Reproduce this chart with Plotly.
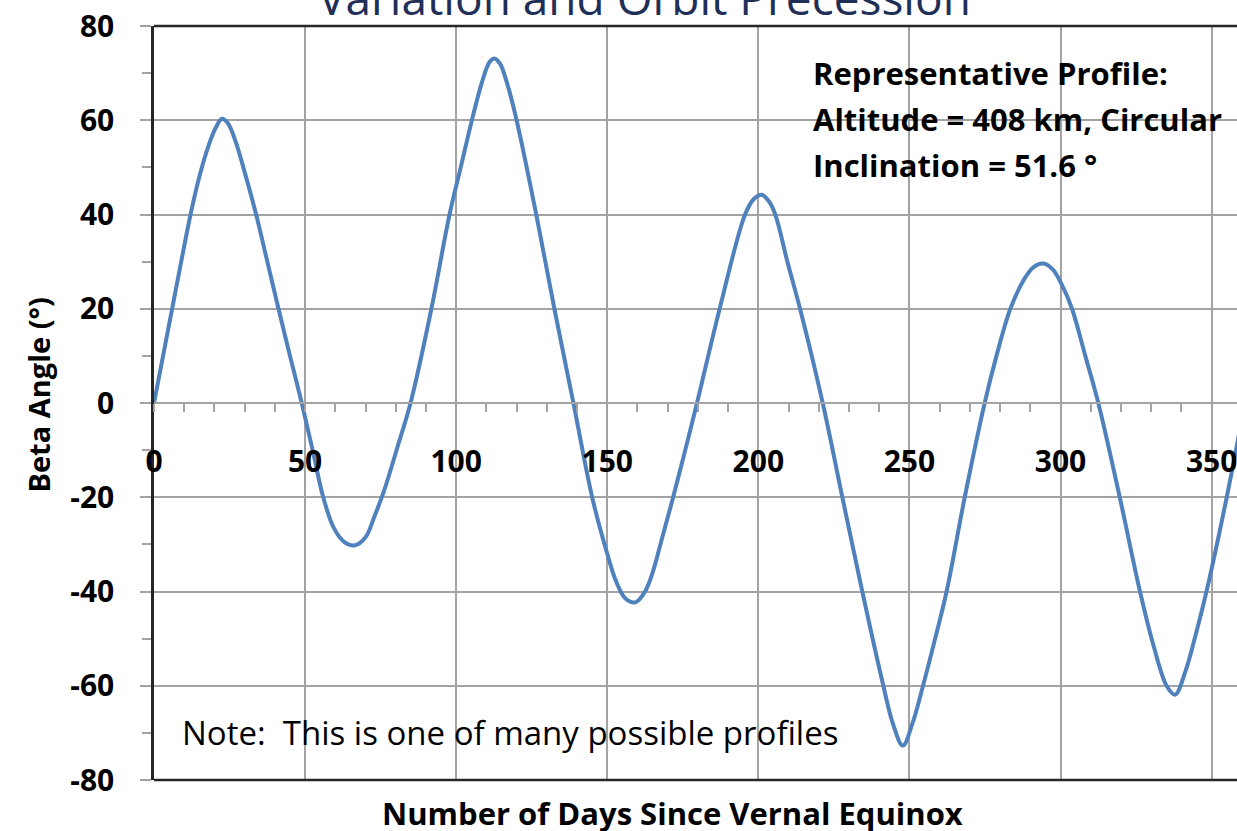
import plotly.graph_objects as go

# beta angle profile (days since vernal equinox, degrees)
days = [0, 3, 6, 9, 12.1, 15, 18, 20.5, 22.5, 24.5, 27, 30, 33.8, 37.5, 41.2, 45, 48.9,
        52.5, 56, 59.5, 63, 66.5, 70, 73, 76.2, 80.5, 84.9, 91.8, 97.8, 101.5, 105.2,
        108.5, 111, 112.6, 114.5, 117, 120, 126.5, 132.5, 138.8, 145, 150, 153, 156,
        159.3, 162.5, 165, 168, 171.8, 175.8, 179.7, 187.2, 195.6, 198.5, 201.1, 203.5,
        205.6, 209.6, 213.8, 221.3, 227.8, 234.4, 241, 244.5, 247.8, 251, 254.5, 258.5,
        262.3, 268.3, 274.9, 278.8, 283.4, 288, 291, 294.3, 297.5, 300.5, 303.8, 308.2,
        312.5, 319.6, 326.3, 331, 335.1, 337.9, 341.3, 344.8, 348.3, 355, 361]
beta = [0, 10, 20, 30, 40, 48, 54.5, 58.5, 60.3, 59.3, 55.5, 49, 40, 30, 20, 10, 0,
        -10, -20, -26.5, -29.5, -30.2, -28.5, -24, -18.5, -9.5, 0, 20, 40, 50, 60,
        68, 72.3, 73.1, 72, 67.5, 60, 40, 20, 0, -20, -32, -38, -41.5,
        -42.3, -40, -36, -29, -20, -10, 0, 20, 40, 43.3, 44.2, 42.8,
        40, 30, 20, 0, -20, -40, -59, -68, -72.7, -68, -60, -50,
        -40, -20, 0, 10, 20, 26.3, 28.8, 29.6, 28.3, 25, 20, 10,
        0, -20, -40, -52, -60, -61.9, -57, -49, -40, -20, 0]

x_ticks = [0, 50, 100, 150, 200, 250, 300, 350]
y_ticks = [-80, -60, -40, -20, 0, 20, 40, 60, 80]
y_labels = ["-80", "-60", "-40", "-20", "0", "20", "40", "60", "80"]

title_text = "Variation and Orbit Precession"
profile_lines = ["Representative Profile:", "Altitude = 408 km, Circular", "Inclination = 51.6 °"]
note_text = "Note:  This is one of many possible profiles"

FONT = "Open Sans"
grid = "#a3a3a3"

fig = go.Figure()
fig.add_trace(go.Scatter(
    x=days,
    y=beta,
    mode="lines",
    line=dict(color="#4f81bd", width=4, shape="spline", smoothing=1.0),
    showlegend=False,
    hoverinfo="skip",
))

fig.update_layout(
    width=1237,
    height=831,
    margin=dict(l=154, r=0, t=26, b=51),
    paper_bgcolor="white",
    plot_bgcolor="white",
    font=dict(family=FONT, color="black"),
    xaxis=dict(
        range=[0, 358.4],
        tickvals=x_ticks,
        anchor="free",
        position=0.5,
        automargin=False,
        showline=True,
        linecolor=grid,
        linewidth=1.5,
        ticks="outside",
        ticklen=8,
        tickwidth=1.5,
        tickcolor=grid,
        minor=dict(dtick=10, ticks="outside", ticklen=8, tickwidth=1.5, tickcolor=grid, showgrid=False),
        showgrid=True,
        gridcolor=grid,
        gridwidth=1.5,
        zeroline=False,
        tickfont=dict(family=FONT, size=30, color="black", weight="bold"),
        ticklabelstandoff=24,
        ticklabeloverflow="allow",
    ),
    yaxis=dict(
        range=[-80, 80],
        tickvals=y_ticks,
        ticktext=y_labels,
        automargin=False,
        showline=True,
        linecolor="#262626",
        linewidth=2.5,
        ticks="outside",
        ticklen=11,
        tickwidth=1.5,
        tickcolor=grid,
        minor=dict(dtick=10, ticks="outside", ticklen=9, tickwidth=1.5, tickcolor=grid, showgrid=False),
        showgrid=True,
        gridcolor=grid,
        gridwidth=1.5,
        zeroline=False,
        tickfont=dict(family=FONT, size=30, color="black", weight="bold"),
        ticklabelstandoff=20,
    ),
)

# white boxes behind the text blocks (hide the grid there)
fig.add_shape(type="rect", xref="paper", yref="paper", x0=0.595, x1=1.02, y0=0.78, y1=0.984,
              fillcolor="white", line=dict(width=0), layer="between")
fig.add_shape(type="rect", xref="paper", yref="paper", x0=0.01, x1=0.65, y0=0.02, y1=0.11,
              fillcolor="white", line=dict(width=0), layer="between")

# top and bottom frame lines
for yy in (0, 1):
    fig.add_shape(type="line", xref="paper", yref="paper", x0=0, x1=1.02, y0=yy, y1=yy,
                  line=dict(color="#262626", width=2.5))

line_y = [0.938, 0.877, 0.815]
for txt, yy in zip(profile_lines, line_y):
    fig.add_annotation(text=txt, xref="paper", yref="paper", x=0.607, y=yy, xanchor="left",
                       yanchor="middle", showarrow=False,
                       font=dict(family=FONT, size=31, color="black", weight="bold"))

fig.add_annotation(text=note_text, xref="paper", yref="paper", x=0.024, y=0.063,
                   xanchor="left", yanchor="middle", showarrow=False,
                   font=dict(family=FONT, size=33, color="black"))

fig.add_annotation(text=title_text, xref="paper", yref="paper", x=0.453, y=1.0,
                   xanchor="center", yanchor="bottom", yshift=-4, showarrow=False,
                   font=dict(family=FONT, size=46, color="#1f2f57"))

fig.add_annotation(text="Beta Angle (°)", xref="paper", yref="paper", x=-0.107, y=0.51,
                   xanchor="center", yanchor="middle", textangle=-90, showarrow=False,
                   font=dict(family=FONT, size=29, color="black", weight="bold"))

fig.add_annotation(text="Number of Days Since Vernal Equinox", xref="paper", yref="paper",
                   x=0.479, y=-0.044, xanchor="center", yanchor="middle", showarrow=False,
                   font=dict(family=FONT, size=31, color="black", weight="bold"))

fig.write_html("out.html", config={"displayModeBar": False},
               post_script="document.body.style.margin='0';")
